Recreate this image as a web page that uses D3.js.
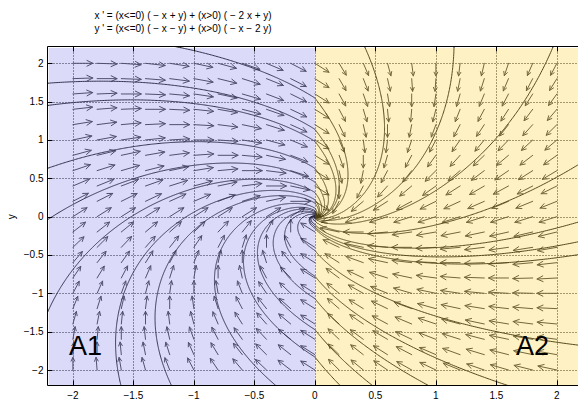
<!DOCTYPE html>
<html><head><meta charset="utf-8">
<script src="https://cdn.jsdelivr.net/npm/d3@7"></script>
<style>
body{margin:0;background:#fff}
svg{display:block}
text{font-family:"Liberation Sans",Arial,Helvetica,sans-serif}
</style>
</head><body>
<svg id="c" width="578" height="399"></svg>
<script>
// ---- data ----
const titleLines = [
  "x ' = (x<=0) ( \u2212 x + y) + (x>0) ( \u2212 2 x + y)",
  "y ' = (x<=0) ( \u2212 x \u2212 y) + (x>0) ( \u2212 x \u2212 2 y)"
];
const xTickVals = [-2, -1.5, -1, -0.5, 0, 0.5, 1, 1.5, 2];
const yTickVals = [-2, -1.5, -1, -0.5, 0, 0.5, 1, 1.5, 2];
const fieldXs = [-2,-1.8,-1.6,-1.4,-1.2,-1,-0.8,-0.6,-0.4,-0.2,0,0.2,0.4,0.6,0.8,1,1.2,1.4,1.6,1.8,2];
const fieldYs = [-2,-1.8,-1.6,-1.4,-1.2,-1,-0.8,-0.6,-0.4,-0.2,0,0.2,0.4,0.6,0.8,1,1.2,1.4,1.6,1.8,2];
const leftMatrix  = [[-1, 1], [-1, -1]];   // x<=0 : x' = -x + y , y' = -x - y
const rightMatrix = [[-2, 1], [-1, -2]];   // x>0  : x' = -2x + y, y' = -x - 2y
const regionNames = ["A1", "A2"];
// initial points of the drawn solutions (read at the plot edges)
const solutionStarts = [
  [-2.21, 1.74], [-2.21, 1.45], [-2.21, 0.63], [-2.21, -0.04], [-2.21, -1.25],
  [-1.16, 2.22], [0.41, 2.22], [1.15, 2.22], [1.97, 2.22],
  [2.2, 0.70], [2.2, -0.06], [2.2, -0.32], [2.2, -0.49], [2.2, -1.68],
  [-1.6, -2.22], [-1.18, -2.22], [-0.31, -2.22], [0.22, -2.22], [0.49, -2.22], [0.96, -2.22], [1.63, -2.22]
];

// ---- layout ----
const svg = d3.select("#c");
const x = d3.scaleLinear().domain([-2, 2]).range([72.9, 556.9]);
const y = d3.scaleLinear().domain([-2, 2]).range([370, 63.3]);
const boxL = 47.5, boxT = 46.5, boxR = 600, boxB = 385.5;

svg.append("rect").attr("width", 578).attr("height", 399).attr("fill", "#fff");

svg.append("defs").append("clipPath").attr("id", "clip")
  .append("rect").attr("x", boxL).attr("y", boxT).attr("width", boxR - boxL).attr("height", boxB - boxT);

const plot = svg.append("g").attr("clip-path", "url(#clip)");

// grid
const grid = plot.append("g").attr("stroke", "#000").attr("stroke-width", 1).attr("stroke-dasharray", "1,2");
xTickVals.forEach(v => grid.append("line")
  .attr("x1", Math.round(x(v)) + 0.5).attr("x2", Math.round(x(v)) + 0.5)
  .attr("y1", boxT).attr("y2", boxB));
yTickVals.forEach(v => grid.append("line")
  .attr("y1", Math.round(y(v)) + 0.5).attr("y2", Math.round(y(v)) + 0.5)
  .attr("x1", boxL).attr("x2", boxR));

// vector field
function field(p) {
  const M = p[0] <= 0 ? leftMatrix : rightMatrix;
  return [M[0][0] * p[0] + M[0][1] * p[1], M[1][0] * p[0] + M[1][1] * p[1]];
}
const arrowLen = 0.165;
const arrows = plot.append("g").attr("stroke", "#3a3a3a").attr("stroke-width", 1).attr("fill", "none")
  .attr("stroke-linecap", "round");
fieldXs.forEach(px => fieldYs.forEach(py => {
  const v = field([px, py]);
  const n = Math.hypot(v[0], v[1]);
  if (n === 0) return;
  const x0 = x(px), y0 = y(py);
  const x1 = x(px + v[0] / n * arrowLen), y1 = y(py + v[1] / n * arrowLen);
  const L = Math.hypot(x1 - x0, y1 - y0);
  const ang = Math.atan2(y1 - y0, x1 - x0);
  const hl = Math.max(4, 0.33 * L), ha = 0.45;
  const a1 = [x1 - hl * Math.cos(ang - ha), y1 - hl * Math.sin(ang - ha)];
  const a2 = [x1 - hl * Math.cos(ang + ha), y1 - hl * Math.sin(ang + ha)];
  arrows.append("path").attr("d",
    `M${x0},${y0}L${x1},${y1}M${a1[0]},${a1[1]}L${x1},${y1}L${a2[0]},${a2[1]}`);
}));

// solutions
function rk4(p, h) {
  const k1 = field(p);
  const k2 = field([p[0] + h / 2 * k1[0], p[1] + h / 2 * k1[1]]);
  const k3 = field([p[0] + h / 2 * k2[0], p[1] + h / 2 * k2[1]]);
  const k4 = field([p[0] + h * k3[0], p[1] + h * k3[1]]);
  return [p[0] + h / 6 * (k1[0] + 2 * k2[0] + 2 * k3[0] + k4[0]),
          p[1] + h / 6 * (k1[1] + 2 * k2[1] + 2 * k3[1] + k4[1])];
}
function solve(p0, dir) {
  const pts = [p0];
  let p = p0;
  for (let i = 0; i < 40000; i++) {
    const r = Math.hypot(p[0], p[1]);
    const h = dir * Math.min(0.004, Math.max(0.0004, r * 0.01));
    p = rk4(p, h);
    pts.push(p);
    if (Math.abs(p[0]) > 2.35 || Math.abs(p[1]) > 2.35) break;
    if (Math.hypot(p[0], p[1]) < 0.0015) break;
  }
  return pts;
}
const line = d3.line().x(d => x(d[0])).y(d => y(d[1]));
const sols = plot.append("g").attr("stroke", "#111").attr("stroke-width", 1).attr("fill", "none");
solutionStarts.forEach(s => {
  const back = solve(s, -1).reverse();
  const fwd = solve(s, 1);
  sols.append("path").attr("d", line(back.concat(fwd.slice(1))));
});

// region tint overlay
plot.append("rect").attr("x", x(-2.2)).attr("y", y(2.2)).attr("width", x(0) - x(-2.2)).attr("height", boxB - y(2.2))
  .attr("fill", "rgb(136,136,236)").attr("fill-opacity", 0.3);
plot.append("rect").attr("x", x(0)).attr("y", y(2.2)).attr("width", x(2.2) - x(0)).attr("height", boxB - y(2.2))
  .attr("fill", "rgb(252,212,60)").attr("fill-opacity", 0.3);

// box & ticks
const axes = svg.append("g").attr("stroke", "#000").attr("stroke-width", 1).attr("fill", "none");
axes.append("path").attr("d", `M${boxR},${boxT}H${boxL}V${boxB}H${boxR}`);
xTickVals.forEach(v => {
  const xx = Math.round(x(v)) + 0.5;
  axes.append("line").attr("x1", xx).attr("x2", xx).attr("y1", boxB).attr("y2", boxB - 5);
  axes.append("line").attr("x1", xx).attr("x2", xx).attr("y1", boxT).attr("y2", boxT + 5);
});
yTickVals.forEach(v => {
  const yy = Math.round(y(v)) + 0.5;
  axes.append("line").attr("x1", boxL).attr("x2", boxL + 5).attr("y1", yy).attr("y2", yy);
});

const fmt = v => (v < 0 ? "\u2212" : "") + String(Math.abs(v));
svg.append("g").selectAll("text").data(xTickVals).join("text")
  .attr("x", d => x(d)).attr("y", 398.5).attr("text-anchor", "middle")
  .attr("font-size", 10).attr("fill", "#000").text(fmt);
svg.append("g").selectAll("text").data(yTickVals).join("text")
  .attr("x", 43.5).attr("y", d => y(d)).attr("dy", "0.35em").attr("text-anchor", "end")
  .attr("font-size", 10).attr("fill", "#000").text(fmt);

svg.append("text").attr("transform", `translate(15,${y(0)}) rotate(-90)`)
  .attr("text-anchor", "middle").attr("font-size", 10).text("y");

svg.append("g").selectAll("text").data(titleLines).join("text")
  .attr("x", 183).attr("y", (d, i) => 19 + i * 13).attr("text-anchor", "middle")
  .attr("font-size", 10).attr("fill", "#000").text(d => d);

// region labels
svg.append("text").attr("x", 69).attr("y", 355).attr("font-size", 27)
  .attr("font-family", "'Noto Sans',sans-serif").attr("fill", "#000").text(regionNames[0]);
svg.append("text").attr("x", 516).attr("y", 355).attr("font-size", 27)
  .attr("font-family", "'Noto Sans',sans-serif").attr("fill", "#000").text(regionNames[1]);
</script>
</body></html>
